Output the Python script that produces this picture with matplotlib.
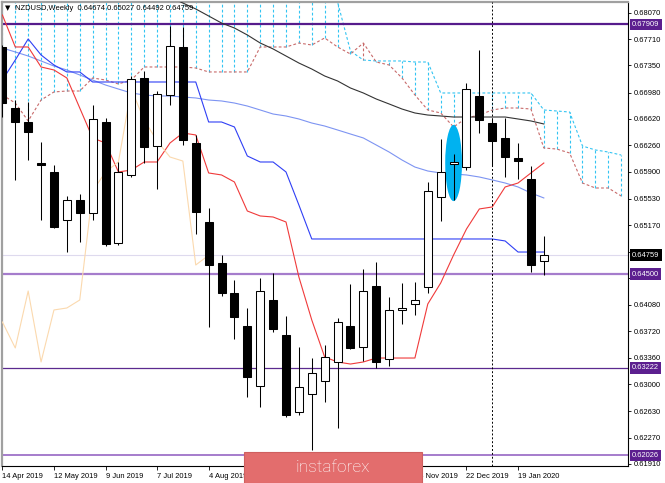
import matplotlib
matplotlib.use("Agg")
import matplotlib.pyplot as plt
from matplotlib.patches import Ellipse, Rectangle
from matplotlib.transforms import blended_transform_factory

plt.rcParams['font.family'] = ['Liberation Sans', 'DejaVu Sans']

# NZDUSD weekly candles, 14 Apr 2019 .. 2 Feb 2020 (one per week)
opens = [0.67602, 0.66769, 0.66578, 0.66018, 0.65896, 0.65240, 0.65513, 0.65336, 0.66578, 0.64926,
         0.65855, 0.67179, 0.66250, 0.66947, 0.67602, 0.66291, 0.65213, 0.64653, 0.64244, 0.63793,
         0.62974, 0.64148, 0.63670, 0.62619, 0.62865, 0.63043, 0.63302, 0.63793, 0.63506, 0.64339,
         0.63343, 0.64012, 0.64094, 0.64326, 0.65554, 0.66004, 0.65963, 0.66933, 0.66564, 0.66360,
         0.66086, 0.65800, 0.64674]
highs = [0.67629, 0.66878, 0.66851, 0.66305, 0.65991, 0.65568, 0.65595, 0.66810, 0.66633, 0.66032,
         0.67206, 0.67274, 0.67001, 0.67888, 0.67875, 0.66401, 0.65404, 0.64762, 0.64421, 0.64039,
         0.64449, 0.64517, 0.63930, 0.63506, 0.63356, 0.63534, 0.63903, 0.64367, 0.64571, 0.64667,
         0.64189, 0.64380, 0.64394, 0.65759, 0.66346, 0.66141, 0.67110, 0.67561, 0.66633, 0.66633,
         0.66291, 0.65977, 0.65027]
lows = [0.66646, 0.65787, 0.66059, 0.65240, 0.65131, 0.64803, 0.64940, 0.65240, 0.64885, 0.64899,
        0.65827, 0.66018, 0.65663, 0.66810, 0.66264, 0.65049, 0.63780, 0.64203, 0.63616, 0.62824,
        0.62687, 0.63711, 0.62551, 0.62578, 0.62100, 0.62755, 0.62400, 0.63479, 0.63315, 0.63220,
        0.63247, 0.63821, 0.63944, 0.64244, 0.65227, 0.65513, 0.65922, 0.66428, 0.65977, 0.65827,
        0.65800, 0.64530, 0.64492]
closes = [0.66837, 0.66578, 0.66442, 0.65991, 0.65145, 0.65513, 0.65336, 0.66619, 0.64913, 0.65896,
          0.67165, 0.66237, 0.66960, 0.67615, 0.66332, 0.65350, 0.64626, 0.64244, 0.63916, 0.63097,
          0.64271, 0.63752, 0.62578, 0.62961, 0.63152, 0.63370, 0.63848, 0.63493, 0.64271, 0.63302,
          0.64012, 0.64039, 0.64148, 0.65636, 0.65896, 0.66032, 0.67028, 0.66605, 0.66319, 0.66100,
          0.66045, 0.64626, 0.64759]

# indicator lines
tenkan = [0.68039, 0.67602, 0.67602, 0.67329, 0.67288, 0.67179, 0.66769, 0.66360, 0.66291, 0.65896,
          0.65922, 0.66032, 0.66032, 0.66291, 0.66428, 0.66401, 0.65882, 0.65855, 0.65759, 0.65363,
          0.65295, 0.65281, 0.65213, 0.64462, 0.63875, 0.63370, 0.63302, 0.63274, 0.63302, 0.63356,
          0.63356, 0.63356, 0.63356, 0.64094, 0.64380, 0.64762, 0.65117, 0.65391, 0.65418, 0.65691,
          0.65745, 0.65882, 0.66018]
kijun = [0.67151, 0.67424, 0.67711, 0.67493, 0.67356, 0.67261, 0.67261, 0.67124, 0.67124, 0.67124,
         0.67124, 0.67124, 0.67124, 0.67124, 0.67124, 0.67124, 0.66578, 0.66578, 0.66510, 0.66114,
         0.66032, 0.66032, 0.65896, 0.65445, 0.64981, 0.64981, 0.64981, 0.64981, 0.64981, 0.64981,
         0.64981, 0.64981, 0.64981, 0.64981, 0.64981, 0.64981, 0.64981, 0.64981, 0.64981, 0.64954,
         0.64803, 0.64803, 0.64803]
nan = float('nan')
ma_slow = [nan, nan, nan, nan, nan, nan, nan, nan, nan, nan,
           nan, nan, nan, 0.68284, 0.68202, 0.68121, 0.68025, 0.67929, 0.67861, 0.67766,
           0.67656, 0.67575, 0.67479, 0.67383, 0.67301, 0.67206, 0.67138, 0.67042, 0.66974, 0.66892,
           0.66824, 0.66755, 0.66701, 0.66673, 0.66660, 0.66646, 0.66646, 0.66646, 0.66646, 0.66646,
           0.66619, 0.66592, 0.66551]
ma_mid = [0.67588, 0.67534, 0.67479, 0.67411, 0.67342, 0.67288, 0.67220, 0.67151, 0.67083, 0.67028,
          0.66974, 0.66947, 0.66933, 0.66933, 0.66919, 0.66906, 0.66878, 0.66865, 0.66837, 0.66796,
          0.66742, 0.66687, 0.66660, 0.66619, 0.66564, 0.66523, 0.66469, 0.66414, 0.66360, 0.66264,
          0.66168, 0.66059, 0.65963, 0.65909, 0.65882, 0.65868, 0.65855, 0.65827, 0.65787, 0.65745,
          0.65691, 0.65609, 0.65541]
span_a = [0.66947, 0.66837, 0.66592, 0.66878, 0.66988, 0.67001, 0.67001, 0.67179, 0.67151, 0.67097,
          0.67151, 0.67329, 0.67329, 0.67329, 0.67329, 0.67315, 0.67261, 0.67261, 0.67261, 0.67261,
          0.67602, 0.67602, 0.67602, 0.67656, 0.67629, 0.67725, 0.67602, 0.67506, 0.67656, 0.67397,
          0.67356, 0.67179, 0.66947, 0.66742, 0.66701, 0.66510, 0.66633, 0.66673, 0.66742, 0.66769,
          0.66769, 0.66755, 0.66223, 0.66209, 0.66155, 0.65745, 0.65677, 0.65677, 0.65568]
span_b = [0.68450, 0.68450, 0.68450, 0.68450, 0.68450, 0.68450, 0.68450, 0.68450, 0.68450, 0.68450,
          0.68450, 0.68450, 0.68450, 0.68450, 0.68450, 0.68450, 0.68450, 0.68450, 0.68450, 0.68450,
          0.68450, 0.68450, 0.68450, 0.68450, 0.68450, 0.68450, 0.68216, 0.67547, 0.67424, 0.67411,
          0.67411, 0.67411, 0.67397, 0.67397, 0.66974, 0.66974, 0.66974, 0.66974, 0.66974, 0.66974,
          0.66974, 0.66974, 0.66742, 0.66728, 0.66714, 0.66250, 0.66196, 0.66168, 0.66127]
chikou_shift = 26

levels = [0.67909, 0.64500, 0.63222, 0.62026]
level_colors = ['#561b8c', '#a57ccc', '#5b2a8f', '#a57ccc']
level_widths = [1.6, 1.6, 0.9, 1.4]

price_ticks = [0.68070, 0.67710, 0.67350, 0.66980, 0.66620, 0.66260, 0.65900, 0.65530, 0.65170,
               0.64810, 0.64450, 0.64080, 0.63720, 0.63360, 0.63000, 0.62630, 0.62270, 0.61910]
date_pos = [0, 4, 8, 12, 16, 20, 24, 28, 32, 36, 40]
date_labels = ['14 Apr 2019', '12 May 2019', '9 Jun 2019', '7 Jul 2019', '4 Aug 2019', '1 Sep 2019',
               '29 Sep 2019', '27 Oct 2019', '24 Nov 2019', '22 Dec 2019', '19 Jan 2020']
separator_week = 38
marked_week = 35

fig = plt.figure(figsize=(6.65, 4.83), dpi=100)
ax = fig.add_axes([2 / 665, 17 / 483, 626 / 665, 464 / 483])
ax.set_xlim(-0.03, 48.53)
ax.set_ylim(0.61882, 0.68216)

# ichimoku cloud
cloud_x = list(range(len(span_a)))
hatch_cols = ['#33c4f2' if b >= a else '#c86a6a' for a, b in zip(span_a, span_b)]
ax.vlines(cloud_x, span_a, span_b, colors=hatch_cols, linewidth=0.8, linestyles=(0, (2.5, 2)), zorder=1)
ax.plot(cloud_x, span_b, color='#33c4f2', lw=0.8, ls=(0, (2.5, 2)), zorder=1)
ax.plot(cloud_x, span_a, color='#c86a6a', lw=0.8, ls=(0, (2.5, 2)), zorder=1)

# levels and current price
for lv, col, w in zip(levels, level_colors, level_widths):
    ax.axhline(lv, color=col, lw=w, zorder=2)
ax.axhline(closes[-1], color='#dedaee', lw=0.8, zorder=2)

x = list(range(len(closes)))
ax.plot(x, ma_slow, color='#333333', lw=0.8, zorder=3)
ax.plot(x, ma_mid, color='#7d94f2', lw=0.8, zorder=3)
ax.plot(x, kijun, color='#2f3ff5', lw=0.8, zorder=3)
ax.plot(x, tenkan, color='#f03a3a', lw=0.8, zorder=3)
ax.plot(x[:len(closes) - chikou_shift], closes[chikou_shift:], color='#fbd9ae', lw=0.8, zorder=3)

ax.axvline(separator_week, color='black', lw=0.7, ls=(0, (2, 2)), zorder=3)

ax.add_patch(Ellipse((marked_week, (opens[marked_week] + closes[marked_week]) / 2), 1.3, 0.0104,
                     fc='#00b2f0', ec='none', zorder=4))

# candles
for i in x:
    o, h, l, c = opens[i], highs[i], lows[i], closes[i]
    ax.vlines(i, l, h, color='black', lw=0.75, zorder=5)
    ax.bar(i, abs(c - o), bottom=min(o, c), width=0.62,
           facecolor='white' if c >= o else 'black', edgecolor='black', linewidth=0.75, zorder=6)

# axes look
ax.yaxis.tick_right()
ax.set_yticks(price_ticks)
ax.set_yticklabels([f"{v:.5f}" for v in price_ticks])
ax.tick_params(axis='y', length=2.5, width=0.6, pad=1.5, labelsize=5.4)
ax.set_xticks(date_pos)
ax.set_xticklabels(date_labels, ha='left')
ax.tick_params(axis='x', length=3, width=0.6, pad=2, labelsize=5.4)
for s in ['left', 'top']:
    ax.spines[s].set_color('#a0a0a0')
    ax.spines[s].set_linewidth(1.6)
for s in ['right', 'bottom']:
    ax.spines[s].set_color('black')
    ax.spines[s].set_linewidth(0.8)

trans = blended_transform_factory(ax.transAxes, ax.transData)
for lv in levels:
    ax.text(1 + 4 / 626, lv, f"{lv:.5f}", transform=trans, ha='left', va='center', fontsize=5.4,
            color='white', clip_on=False, zorder=10,
            bbox=dict(boxstyle='square,pad=0.3', fc='#5c1f8f', ec='none'))
ax.text(1 + 4 / 626, closes[-1], f"{closes[-1]:.5f}", transform=trans, ha='left', va='center',
        fontsize=5.4, color='white', clip_on=False, zorder=10,
        bbox=dict(boxstyle='square,pad=0.3', fc='black', ec='none'))

# header
fig.text(5 / 665, 1 - 8 / 483, "\u25bc", fontsize=5, va='center', family='DejaVu Sans')
fig.text(15 / 665, 1 - 8 / 483,
         f"NZDUSD,Weekly  {opens[-1]:.5f} {highs[-1]:.5f} {lows[-1]:.5f} {closes[-1]:.5f}",
         fontsize=5.4, va='center')

# watermark
fig.patches.append(Rectangle((244 / 665, 0), 178 / 665, 31 / 483, transform=fig.transFigure,
                             fc='#e36d6d', ec='#cf5f5f', lw=0.8, zorder=20))
fig.text(333 / 665, 16 / 483, "instaforex", ha='center', va='center', fontsize=12.5,
         color='white', family=['Roboto', 'DejaVu Sans'], fontweight='light', zorder=21)

fig.savefig("out.png", dpi=100)
